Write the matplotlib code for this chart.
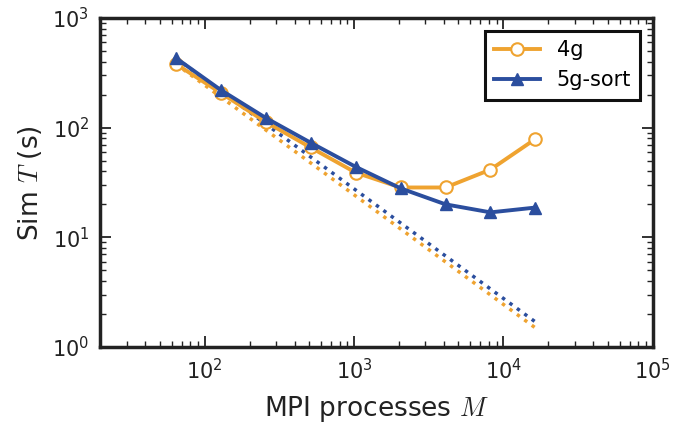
import numpy as np
import matplotlib
matplotlib.use('Agg')
import matplotlib.pyplot as plt

plt.rcParams['mathtext.fontset'] = 'cm'

# 数据：MPI进程数与模拟时间
procs = [64, 128, 256, 512, 1024, 2048, 4096, 8192, 16384]
t_4g = [382, 208, 113, 66, 39, 28.5, 28.5, 41.5, 79]
t_5g_sort = [433, 221, 123, 73, 44, 28, 20, 16.9, 18.7]

c_4g = '#EFA330'
c_5g = '#2B4E9E'

procs_arr = np.array(procs, dtype=float)
# 理想线性加速线（以第一个点为基准）
ideal_4g = t_4g[0] * procs_arr[0] / procs_arr
ideal_5g = t_5g_sort[0] * procs_arr[0] / procs_arr

fig = plt.figure(figsize=(6.73, 4.30), dpi=100)
ax = fig.add_axes([0.149, 0.193, 0.821, 0.765])

ax.plot(procs_arr, ideal_4g, ':', color=c_4g, lw=2.5)
ax.plot(procs_arr, ideal_5g, ':', color=c_5g, lw=2.5)
ax.plot(procs, t_4g, '-o', color=c_4g, lw=2.8, ms=9, mfc='white',
        mec=c_4g, mew=1.5, label='4g')
ax.plot(procs, t_5g_sort, '-^', color=c_5g, lw=2.8, ms=9, mec=c_5g,
        label='5g-sort')

ax.set_xscale('log')
ax.set_yscale('log')
ax.set_xlim(20, 1e5)
ax.set_ylim(1, 1e3)

ax.set_xlabel('MPI processes $M$', fontsize=19, color='#222222', labelpad=8)
ax.set_ylabel('Sim $T$ (s)', fontsize=19, color='#222222', labelpad=6)

for s in ax.spines.values():
    s.set_linewidth(2.5)
    s.set_color('#222222')
ax.tick_params(which='both', direction='in', top=True, right=True,
               colors='#222222', labelsize=15, pad=8)
ax.tick_params(which='major', length=8, width=1.3)
ax.tick_params(which='minor', length=4.5, width=1.0)

leg = ax.legend(loc='upper right', fontsize=15, fancybox=False,
                framealpha=1, borderpad=0.45, handlelength=2.2,
                borderaxespad=0.6)
leg.get_frame().set_edgecolor('#111111')
leg.get_frame().set_linewidth(2.2)

fig.savefig('out.png', dpi=100)
